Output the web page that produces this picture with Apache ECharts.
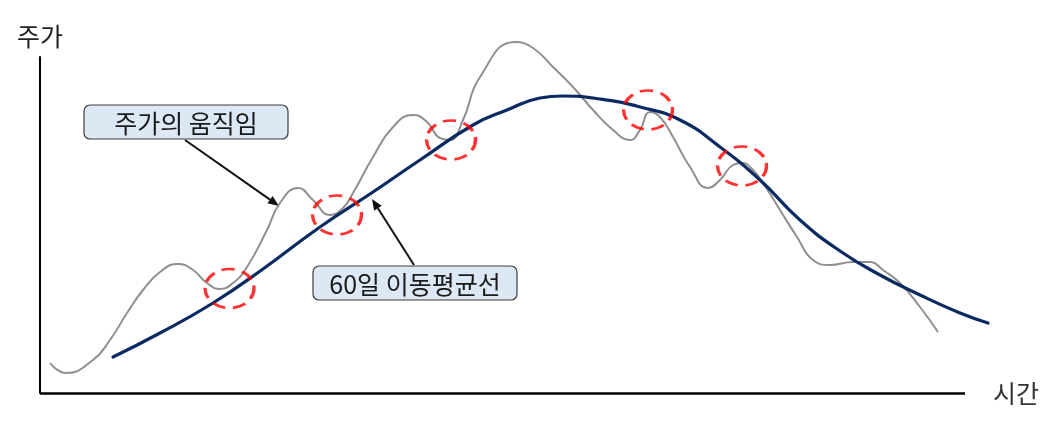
<!DOCTYPE html>
<html><head><meta charset="utf-8">
<script src="https://cdn.jsdelivr.net/npm/echarts@6/dist/echarts.min.js"></script>
<style>html,body{margin:0;padding:0;background:#fff}#c{width:1057px;height:424px}</style>
</head><body><div id="c"></div>
<script>
// Stock price movement (time, price) in arbitrary chart units
const priceTime = [10,26,53,70,87,103,120,138,153,167,180,193,207,227,240,258,273,290,303,313,333,353,373,387,400,410,423,440,475,493,513,533,553,573,590,600,610,620,633,650,668,680,693,702,713,723,740,757,773,790,813,830,843,860,880,898];
const priceValue = [30,20,33,53,80,103,121,129,123,110,104,110,126,163,190,205,193,178,185,200,236,266,278,271,255,253,273,316,351,345,326,306,283,263,253,263,281,276,256,226,205,213,228,230,223,210,183,156,133,128,131,131,123,110,86,61];
// 60-day moving average
const maTime = [73,120,173,223,280,333,380,433,467,500,522,560,600,640,680,720,760,800,840,880,920,948];
const maValue = [36,60,90,124,166,201,233,268,283,295,297,294,286,273,246,213,173,142,118,98,80,70];
// Crossing points (golden/dead crosses)
const crossTime = [189.5,297,411,608,702];
const crossValue = [104.5,178,253,283,227];
// Axis extent and names
const timeAxisEnd = 925;
const axisNames = {x:'시간', y:'주가'};
const labels = {price:'주가의 움직임', ma:'60일 이동평균선'};

const zip = (a,b)=>a.map((v,i)=>[v,b[i]]);
const chart = echarts.init(document.getElementById('c'));
const font = '"Noto Sans CJK KR","Noto Sans",sans-serif';

function arrow(x1,y1,x2,y2){
  const ang = Math.atan2(y2-y1,x2-x1), L=11, W=4.5;
  const bx = x2 - L*Math.cos(ang), by = y2 - L*Math.sin(ang);
  const px = -Math.sin(ang)*W, py = Math.cos(ang)*W;
  return [
    {type:'line',shape:{x1:x1,y1:y1,x2:bx,y2:by},style:{stroke:'#111',lineWidth:2}},
    {type:'polygon',shape:{points:[[x2,y2],[bx+px,by+py],[bx-px,by-py]]},style:{fill:'#111'}}
  ];
}
function box(x,y,w,h,text){
  return [
    {type:'rect',shape:{x:x,y:y,width:w,height:h,r:6},style:{fill:'#dde8f5',stroke:'#3c3c3c',lineWidth:1.2},z:10},
    {type:'text',x:x+w/2,y:y+h/2+1,style:{text:text,font:'25px '+font,fill:'#1a1a1a',align:'center',verticalAlign:'middle'},z:11}
  ];
}

chart.setOption({
  animation:false,
  grid:{left:40,right:69,top:57,bottom:31},
  xAxis:{type:'value',min:0,max:948,
    axisLine:{show:false},axisTick:{show:false},axisLabel:{show:false},splitLine:{show:false}},
  yAxis:{type:'value',min:0,max:336,name:axisNames.y,nameLocation:'end',nameGap:8,
    nameTextStyle:{fontSize:25,color:'#222',fontFamily:font,align:'center'},
    axisLine:{show:true,lineStyle:{color:'#000',width:2}},axisTick:{show:false},axisLabel:{show:false},splitLine:{show:false}},
  series:[
    {type:'line',data:zip(priceTime,priceValue),smooth:0.5,showSymbol:false,clip:false,
     lineStyle:{color:'#8f8f8f',width:2},z:2,
     markLine:{silent:true,symbol:'none',
       lineStyle:{color:'#000',width:2.5,type:'solid'},
       label:{show:true,position:'end',formatter:axisNames.x,distance:28,fontSize:25,color:'#333',fontFamily:font},
       data:[[{coord:[0,0]},{coord:[timeAxisEnd,0]}]]}},
    {type:'line',data:zip(maTime,maValue),smooth:0.5,showSymbol:false,clip:false,
     lineStyle:{color:'#0b2a62',width:3.2,cap:'round'},z:3},
    {type:'scatter',data:zip(crossTime,crossValue),symbol:'circle',symbolSize:[49,39],clip:false,
     itemStyle:{color:'rgba(0,0,0,0)',borderColor:'#ff0000',borderWidth:3,borderType:[12,7]},z:4}
  ],
  graphic:[
    ...box(84,105,204,34,labels.price),
    ...box(313,266,204,34,labels.ma),
    ...arrow(185,140,279,206),
    ...arrow(414,265,372,199)
  ]
});
</script></body></html>
